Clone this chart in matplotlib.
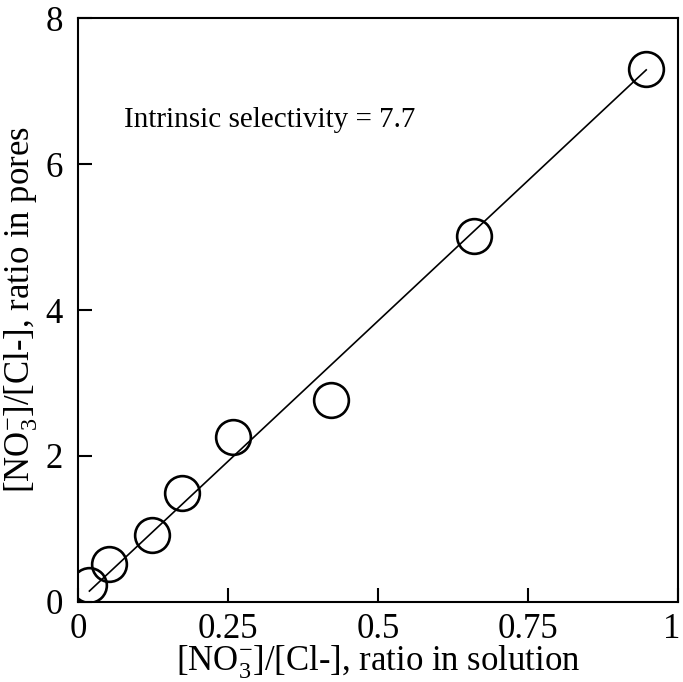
import numpy as np
import matplotlib.pyplot as plt
from matplotlib.transforms import ScaledTranslation

plt.rcParams['font.family'] = ['Liberation Serif', 'DejaVu Serif']
plt.rcParams['mathtext.fontset'] = 'custom'
plt.rcParams['mathtext.rm'] = 'Liberation Serif'
plt.rcParams['mathtext.it'] = 'Liberation Serif:italic'

# measured ratios
x_sol = [0.019, 0.052, 0.124, 0.173, 0.259, 0.422, 0.660, 0.946]
y_pore = [0.23, 0.52, 0.91, 1.49, 2.26, 2.77, 5.02, 7.30]

# fitted line, slope = intrinsic selectivity
selectivity = 7.7
x_fit = np.array([0.019, 0.947])
y_fit = selectivity * x_fit

xticks = [0, 0.25, 0.5, 0.75, 1]
xticklabels = ['0', '0.25', '0.5', '0.75', '1']
yticks = [0, 2, 4, 6, 8]

fig = plt.figure(figsize=(6.83, 6.82), dpi=100)
ax = fig.add_axes([0.1142, 0.1177, 0.8785, 0.8555])

ax.plot(x_fit, y_fit, color='black', lw=1.2)
ax.plot(x_sol, y_pore, 'o', ms=25, mfc='none', mec='black', mew=1.9)

ax.set_xlim(0, 1)
ax.set_ylim(0, 8)
ax.set_xticks(xticks)
ax.set_xticklabels(xticklabels)
ax.set_yticks(yticks)

for s in ax.spines.values():
    s.set_linewidth(1.5)
ax.tick_params(direction='in', length=10, width=1.5, labelsize=25)
ax.tick_params(axis='x', pad=8)
ax.tick_params(axis='y', pad=11)

# keep the last x label inside the figure
last = ax.get_xticklabels()[-1]
last.set_transform(last.get_transform() + ScaledTranslation(-6 / 100, 0, fig.dpi_scale_trans))

ax.set_xlabel(r'[NO$_3^{\mathrm{-}}$]/[Cl-], ratio in solution', fontsize=25, labelpad=-2)
ax.set_ylabel(r'[NO$_3^{\mathrm{-}}$]/[Cl-], ratio in pores', fontsize=25, labelpad=4)

ax.text(0.077, 6.61, 'Intrinsic selectivity = %.1f' % selectivity,
        fontsize=21, va='center', ha='left')

fig.savefig('out.png', dpi=100)
